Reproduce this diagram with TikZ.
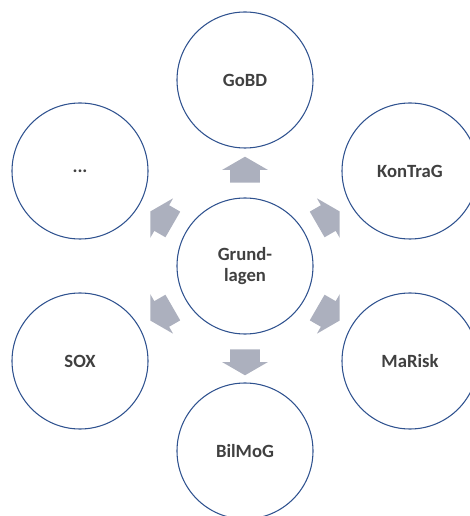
\documentclass[tikz,border=0pt]{standalone}
\usepackage{fontspec}
\setmainfont{Carlito}
\usetikzlibrary{shapes.arrows,calc}

\definecolor{kreisblau}{HTML}{2F528F}
\definecolor{pfeilgrau}{HTML}{ACB0BE}
\definecolor{textgrau}{HTML}{404040}

\begin{document}
\begin{tikzpicture}[x=0.75pt,y=0.75pt,
    kreis/.style={draw=kreisblau,
        line width=0.8pt,
        circle,
        minimum size=102pt,
        inner sep=0pt,
        align=center,
        text=textgrau,
        font=\bfseries\fontsize{14}{16}\selectfont
    },
    blockpfeil/.style={single arrow,
        fill=pfeilgrau,
        draw=none,
        minimum height=19.5pt,
        inner xsep=0pt,
        inner ysep=10.9pt,
        single arrow head extend=6pt,
        single arrow tip angle=120
    }]

    \useasboundingbox (-245,-250) rectangle (224,266);

    \node[kreis] (grund) at (0,0){Grund-\\lagen};

    \node[kreis] (gobd)    at (0,186){GoBD};
    \node[kreis] (kontrag) at (165,95){KonTraG};
    \node[kreis] (marisk)  at (165,-95){MaRisk};
    \node[kreis] (bilmog)  at (0,-185){BilMoG};
    \node[kreis] (sox)     at (-165,-95){SOX};
    \node[kreis] (weitere) at (-165,95){...};

    % Pfeile von der Mitte nach aussen
    \foreach \ziel/\winkel in {gobd/90, kontrag/30, marisk/-30,
                               bilmog/-90, sox/-150, weitere/150}
        \node[blockpfeil, rotate=\winkel] (p-\ziel)
            at ($(grund)!69pt!(\ziel)$){};

\end{tikzpicture}
\end{document}
